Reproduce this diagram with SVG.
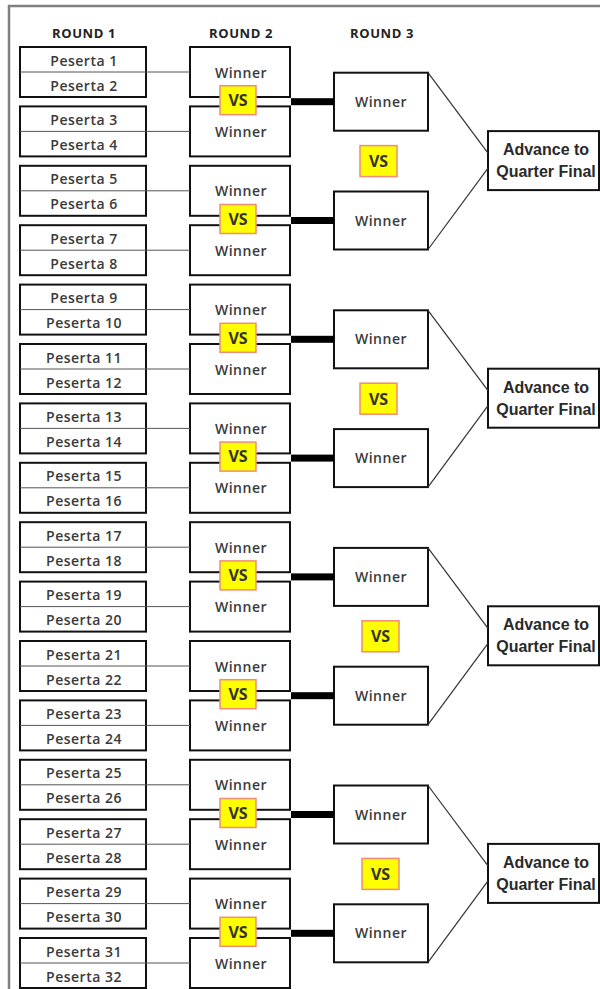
<svg xmlns="http://www.w3.org/2000/svg" width="600" height="989" viewBox="0 0 600 989">
<style>
.bg{fill:#fff}
.frame{fill:none;stroke:#808080;stroke-width:2.5}
.box{fill:#fff;stroke:#111;stroke-width:2}
.div{stroke:#555;stroke-width:1}
.t{font-family:"Open Sans","Liberation Sans",sans-serif;font-size:14px;font-weight:600;fill:#3a3a3a;text-anchor:middle;letter-spacing:0.5px}
.h{font-family:"Open Sans","Liberation Sans",sans-serif;font-weight:bold;font-size:13px;fill:#222;text-anchor:middle;letter-spacing:0.6px}
.vs rect{fill:#ffff00;stroke:#f08c78;stroke-width:1.5}
.vs text{font-family:"Open Sans","Liberation Sans",sans-serif;font-weight:bold;font-size:16px;fill:#333;text-anchor:middle}
.adv text{font-family:"Liberation Sans",Arial,sans-serif;font-weight:bold;font-size:16px;fill:#2a2a2a;text-anchor:middle}
.thin{stroke:#555;stroke-width:1;fill:none}
.bar{fill:#000}
.diag{stroke:#333;stroke-width:1.2;fill:none}
</style>
<rect class="bg" x="0" y="0" width="600" height="989"/>
<path class="frame" d="M9,989 V6 H600"/>
<g id="headers">
<text class="h" x="84" y="38">ROUND 1</text>
<text class="h" x="241" y="38">ROUND 2</text>
<text class="h" x="382" y="38">ROUND 3</text>
</g>
<g id="round1">
<g id="r1-1"><rect class="box" x="20" y="47" width="126" height="50"/><line class="div" x1="20" y1="72" x2="146" y2="72"/><text class="t" x="84" y="65.5">Peserta 1</text><text class="t" x="84" y="90.5">Peserta 2</text></g>
<g id="r1-2"><rect class="box" x="20" y="106.4" width="126" height="50"/><line class="div" x1="20" y1="131.4" x2="146" y2="131.4"/><text class="t" x="84" y="124.9">Peserta 3</text><text class="t" x="84" y="149.9">Peserta 4</text></g>
<g id="r1-3"><rect class="box" x="20" y="165.8" width="126" height="50"/><line class="div" x1="20" y1="190.8" x2="146" y2="190.8"/><text class="t" x="84" y="184.3">Peserta 5</text><text class="t" x="84" y="209.3">Peserta 6</text></g>
<g id="r1-4"><rect class="box" x="20" y="225.2" width="126" height="50"/><line class="div" x1="20" y1="250.2" x2="146" y2="250.2"/><text class="t" x="84" y="243.7">Peserta 7</text><text class="t" x="84" y="268.7">Peserta 8</text></g>
<g id="r1-5"><rect class="box" x="20" y="284.6" width="126" height="50"/><line class="div" x1="20" y1="309.6" x2="146" y2="309.6"/><text class="t" x="84" y="303.1">Peserta 9</text><text class="t" x="84" y="328.1">Peserta 10</text></g>
<g id="r1-6"><rect class="box" x="20" y="344" width="126" height="50"/><line class="div" x1="20" y1="369" x2="146" y2="369"/><text class="t" x="84" y="362.5">Peserta 11</text><text class="t" x="84" y="387.5">Peserta 12</text></g>
<g id="r1-7"><rect class="box" x="20" y="403.4" width="126" height="50"/><line class="div" x1="20" y1="428.4" x2="146" y2="428.4"/><text class="t" x="84" y="421.9">Peserta 13</text><text class="t" x="84" y="446.9">Peserta 14</text></g>
<g id="r1-8"><rect class="box" x="20" y="462.8" width="126" height="50"/><line class="div" x1="20" y1="487.8" x2="146" y2="487.8"/><text class="t" x="84" y="481.3">Peserta 15</text><text class="t" x="84" y="506.3">Peserta 16</text></g>
<g id="r1-9"><rect class="box" x="20" y="522.2" width="126" height="50"/><line class="div" x1="20" y1="547.2" x2="146" y2="547.2"/><text class="t" x="84" y="540.7">Peserta 17</text><text class="t" x="84" y="565.7">Peserta 18</text></g>
<g id="r1-10"><rect class="box" x="20" y="581.6" width="126" height="50"/><line class="div" x1="20" y1="606.6" x2="146" y2="606.6"/><text class="t" x="84" y="600.1">Peserta 19</text><text class="t" x="84" y="625.1">Peserta 20</text></g>
<g id="r1-11"><rect class="box" x="20" y="641" width="126" height="50"/><line class="div" x1="20" y1="666" x2="146" y2="666"/><text class="t" x="84" y="659.5">Peserta 21</text><text class="t" x="84" y="684.5">Peserta 22</text></g>
<g id="r1-12"><rect class="box" x="20" y="700.4" width="126" height="50"/><line class="div" x1="20" y1="725.4" x2="146" y2="725.4"/><text class="t" x="84" y="718.9">Peserta 23</text><text class="t" x="84" y="743.9">Peserta 24</text></g>
<g id="r1-13"><rect class="box" x="20" y="759.8" width="126" height="50"/><line class="div" x1="20" y1="784.8" x2="146" y2="784.8"/><text class="t" x="84" y="778.3">Peserta 25</text><text class="t" x="84" y="803.3">Peserta 26</text></g>
<g id="r1-14"><rect class="box" x="20" y="819.2" width="126" height="50"/><line class="div" x1="20" y1="844.2" x2="146" y2="844.2"/><text class="t" x="84" y="837.7">Peserta 27</text><text class="t" x="84" y="862.7">Peserta 28</text></g>
<g id="r1-15"><rect class="box" x="20" y="878.6" width="126" height="50"/><line class="div" x1="20" y1="903.6" x2="146" y2="903.6"/><text class="t" x="84" y="897.1">Peserta 29</text><text class="t" x="84" y="922.1">Peserta 30</text></g>
<g id="r1-16"><rect class="box" x="20" y="938" width="126" height="50"/><line class="div" x1="20" y1="963" x2="146" y2="963"/><text class="t" x="84" y="956.5">Peserta 31</text><text class="t" x="84" y="981.5">Peserta 32</text></g>
</g>
<g id="round2">
<g id="r2-1"><rect class="box" x="190" y="47" width="100" height="50"/><text class="t" x="241" y="77.5">Winner</text></g>
<g id="r2-2"><rect class="box" x="190" y="106.4" width="100" height="50"/><text class="t" x="241" y="136.9">Winner</text></g>
<g id="r2-3"><rect class="box" x="190" y="165.8" width="100" height="50"/><text class="t" x="241" y="196.3">Winner</text></g>
<g id="r2-4"><rect class="box" x="190" y="225.2" width="100" height="50"/><text class="t" x="241" y="255.7">Winner</text></g>
<g id="r2-5"><rect class="box" x="190" y="284.6" width="100" height="50"/><text class="t" x="241" y="315.1">Winner</text></g>
<g id="r2-6"><rect class="box" x="190" y="344" width="100" height="50"/><text class="t" x="241" y="374.5">Winner</text></g>
<g id="r2-7"><rect class="box" x="190" y="403.4" width="100" height="50"/><text class="t" x="241" y="433.9">Winner</text></g>
<g id="r2-8"><rect class="box" x="190" y="462.8" width="100" height="50"/><text class="t" x="241" y="493.3">Winner</text></g>
<g id="r2-9"><rect class="box" x="190" y="522.2" width="100" height="50"/><text class="t" x="241" y="552.7">Winner</text></g>
<g id="r2-10"><rect class="box" x="190" y="581.6" width="100" height="50"/><text class="t" x="241" y="612.1">Winner</text></g>
<g id="r2-11"><rect class="box" x="190" y="641" width="100" height="50"/><text class="t" x="241" y="671.5">Winner</text></g>
<g id="r2-12"><rect class="box" x="190" y="700.4" width="100" height="50"/><text class="t" x="241" y="730.9">Winner</text></g>
<g id="r2-13"><rect class="box" x="190" y="759.8" width="100" height="50"/><text class="t" x="241" y="790.3">Winner</text></g>
<g id="r2-14"><rect class="box" x="190" y="819.2" width="100" height="50"/><text class="t" x="241" y="849.7">Winner</text></g>
<g id="r2-15"><rect class="box" x="190" y="878.6" width="100" height="50"/><text class="t" x="241" y="909.1">Winner</text></g>
<g id="r2-16"><rect class="box" x="190" y="938" width="100" height="50"/><text class="t" x="241" y="968.5">Winner</text></g>
</g>
<g id="round3">
<g id="r3-1"><rect class="box" x="334" y="72.7" width="94" height="58"/><text class="t" x="381" y="106.7">Winner</text></g>
<g id="r3-2"><rect class="box" x="334" y="191.5" width="94" height="58"/><text class="t" x="381" y="225.5">Winner</text></g>
<g id="r3-3"><rect class="box" x="334" y="310.3" width="94" height="58"/><text class="t" x="381" y="344.3">Winner</text></g>
<g id="r3-4"><rect class="box" x="334" y="429.1" width="94" height="58"/><text class="t" x="381" y="463.1">Winner</text></g>
<g id="r3-5"><rect class="box" x="334" y="547.9" width="94" height="58"/><text class="t" x="381" y="581.9">Winner</text></g>
<g id="r3-6"><rect class="box" x="334" y="666.7" width="94" height="58"/><text class="t" x="381" y="700.7">Winner</text></g>
<g id="r3-7"><rect class="box" x="334" y="785.5" width="94" height="58"/><text class="t" x="381" y="819.5">Winner</text></g>
<g id="r3-8"><rect class="box" x="334" y="904.3" width="94" height="58"/><text class="t" x="381" y="938.3">Winner</text></g>
</g>
<g id="advance">
<g id="adv-1" class="adv"><rect class="box" x="488" y="131.1" width="111" height="59"/><text x="546" y="155.1">Advance to</text><text x="546" y="177.1">Quarter Final</text></g>
<g id="adv-2" class="adv"><rect class="box" x="488" y="368.7" width="111" height="59"/><text x="546" y="392.7">Advance to</text><text x="546" y="414.7">Quarter Final</text></g>
<g id="adv-3" class="adv"><rect class="box" x="488" y="606.3" width="111" height="59"/><text x="546" y="630.3">Advance to</text><text x="546" y="652.3">Quarter Final</text></g>
<g id="adv-4" class="adv"><rect class="box" x="488" y="843.9" width="111" height="59"/><text x="546" y="867.9">Advance to</text><text x="546" y="889.9">Quarter Final</text></g>
</g>
<g id="connectors">
<line class="thin" x1="146" y1="72" x2="190" y2="72"/>
<line class="thin" x1="146" y1="131.4" x2="190" y2="131.4"/>
<line class="thin" x1="146" y1="190.8" x2="190" y2="190.8"/>
<line class="thin" x1="146" y1="250.2" x2="190" y2="250.2"/>
<line class="thin" x1="146" y1="309.6" x2="190" y2="309.6"/>
<line class="thin" x1="146" y1="369" x2="190" y2="369"/>
<line class="thin" x1="146" y1="428.4" x2="190" y2="428.4"/>
<line class="thin" x1="146" y1="487.8" x2="190" y2="487.8"/>
<line class="thin" x1="146" y1="547.2" x2="190" y2="547.2"/>
<line class="thin" x1="146" y1="606.6" x2="190" y2="606.6"/>
<line class="thin" x1="146" y1="666" x2="190" y2="666"/>
<line class="thin" x1="146" y1="725.4" x2="190" y2="725.4"/>
<line class="thin" x1="146" y1="784.8" x2="190" y2="784.8"/>
<line class="thin" x1="146" y1="844.2" x2="190" y2="844.2"/>
<line class="thin" x1="146" y1="903.6" x2="190" y2="903.6"/>
<line class="thin" x1="146" y1="963" x2="190" y2="963"/>
<rect class="bar" x="291" y="98.2" width="43" height="7"/>
<rect class="bar" x="291" y="217" width="43" height="7"/>
<rect class="bar" x="291" y="335.8" width="43" height="7"/>
<rect class="bar" x="291" y="454.6" width="43" height="7"/>
<rect class="bar" x="291" y="573.4" width="43" height="7"/>
<rect class="bar" x="291" y="692.2" width="43" height="7"/>
<rect class="bar" x="291" y="811" width="43" height="7"/>
<rect class="bar" x="291" y="929.8" width="43" height="7"/>
<line class="diag" x1="428" y1="72.7" x2="488" y2="153.1"/>
<line class="diag" x1="428" y1="249.5" x2="488" y2="168.1"/>
<line class="diag" x1="428" y1="310.3" x2="488" y2="390.7"/>
<line class="diag" x1="428" y1="487.1" x2="488" y2="405.7"/>
<line class="diag" x1="428" y1="547.9" x2="488" y2="628.3"/>
<line class="diag" x1="428" y1="724.7" x2="488" y2="643.3"/>
<line class="diag" x1="428" y1="785.5" x2="488" y2="865.9"/>
<line class="diag" x1="428" y1="962.3" x2="488" y2="880.9"/>
</g>
<g id="vs-round2">
<g id="vs2-1" class="vs"><rect x="220" y="85.7" width="36" height="29"/><text x="238" y="106">VS</text></g>
<g id="vs2-2" class="vs"><rect x="220" y="204.5" width="36" height="29"/><text x="238" y="224.8">VS</text></g>
<g id="vs2-3" class="vs"><rect x="220" y="323.3" width="36" height="29"/><text x="238" y="343.6">VS</text></g>
<g id="vs2-4" class="vs"><rect x="220" y="442.1" width="36" height="29"/><text x="238" y="462.4">VS</text></g>
<g id="vs2-5" class="vs"><rect x="220" y="560.9" width="36" height="29"/><text x="238" y="581.2">VS</text></g>
<g id="vs2-6" class="vs"><rect x="220" y="679.7" width="36" height="29"/><text x="238" y="700">VS</text></g>
<g id="vs2-7" class="vs"><rect x="220" y="798.5" width="36" height="29"/><text x="238" y="818.8">VS</text></g>
<g id="vs2-8" class="vs"><rect x="220" y="917.3" width="36" height="29"/><text x="238" y="937.6">VS</text></g>
</g>
<g id="vs-round3">
<g id="vs3-1" class="vs"><rect x="360" y="145.6" width="37" height="31"/><text x="378.5" y="167">VS</text></g>
<g id="vs3-2" class="vs"><rect x="360" y="383.2" width="37" height="31"/><text x="378.5" y="404.6">VS</text></g>
<g id="vs3-3" class="vs"><rect x="362" y="620.8" width="37" height="31"/><text x="380.5" y="642.2">VS</text></g>
<g id="vs3-4" class="vs"><rect x="362" y="858.4" width="37" height="31"/><text x="380.5" y="879.8">VS</text></g>
</g>
</svg>
